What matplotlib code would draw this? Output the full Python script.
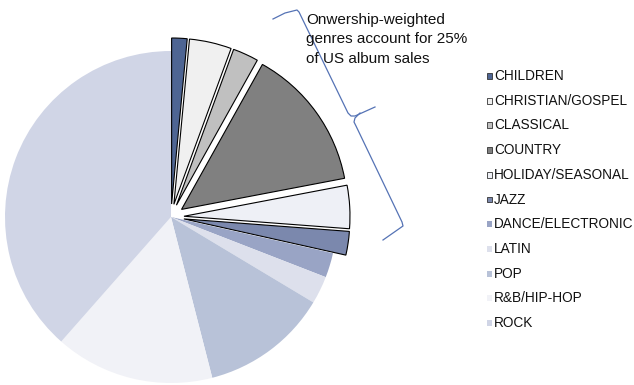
import matplotlib.pyplot as plt
from matplotlib.patches import Rectangle

plt.rcParams['font.family'] = ['Liberation Sans', 'DejaVu Sans']

genres = ["CHILDREN", "CHRISTIAN/GOSPEL", "CLASSICAL", "COUNTRY",
          "HOLIDAY/SEASONAL", "JAZZ", "DANCE/ELECTRONIC", "LATIN",
          "POP", "R&B/HIP-HOP", "ROCK"]
share = [1.5, 4.1, 2.5, 13.9, 4.2, 2.3, 2.4, 2.7, 12.4, 15.5, 38.5]
colors = ["#4e6593", "#f0f0f0", "#c0c0c0", "#808080", "#eef0f6", "#7b88ad",
          "#99a4c5", "#dde0ec", "#b8c2d8", "#f1f2f7", "#d0d5e6"]
# ownership-weighted genres are pulled out of the pie
owned = [True, True, True, True, True, True, False, False, False, False, False]

W, H = 634, 385
fig = plt.figure(figsize=(W / 100, H / 100), dpi=100)
ax = fig.add_axes([0, 0, 1, 1])

R = 166
wedges, _ = ax.pie(share, colors=colors, startangle=90, counterclock=False,
                   center=(171, H - 217), radius=R,
                   explode=[13 if o else 0 for o in owned], frame=True)
for w, o in zip(wedges, owned):
    if o:
        w.set_edgecolor('black')
        w.set_linewidth(0.8)
    else:
        w.set_linewidth(0)
ax.set_xlim(0, W)
ax.set_ylim(0, H)
ax.set_aspect('equal')
ax.axis('off')

# legend
for i, (g, c, o) in enumerate(zip(genres, colors, owned)):
    yc = H - (76 + i * 24.7)
    ax.add_patch(Rectangle((486.5, yc - 2.9), 5.8, 5.8, facecolor=c,
                           edgecolor='#333333' if o else 'none', lw=0.6))
    ax.text(494, yc, g, fontsize=9.8, va='center', ha='left', color='#111111')

# brace around the pulled-out slices
bx = [273, 285, 297, 299, 348, 351, 355, 375]
by = [19, 13, 10, 12, 113, 116, 116, 107]
ax.plot(bx, [H - v for v in by], color='#5573b5', lw=0.9)
bx2 = [360, 355, 354, 356, 402, 403, 383]
by2 = [113, 118, 122, 126, 222, 226, 240]
ax.plot(bx2, [H - v for v in by2], color='#5573b5', lw=0.9)

ax.text(306, H - 13, "Onwership-weighted\ngenres account for 25%\nof US album sales",
        fontsize=11, va='top', ha='left', linespacing=1.5, color='#111111')

fig.savefig("out.png", dpi=100)
